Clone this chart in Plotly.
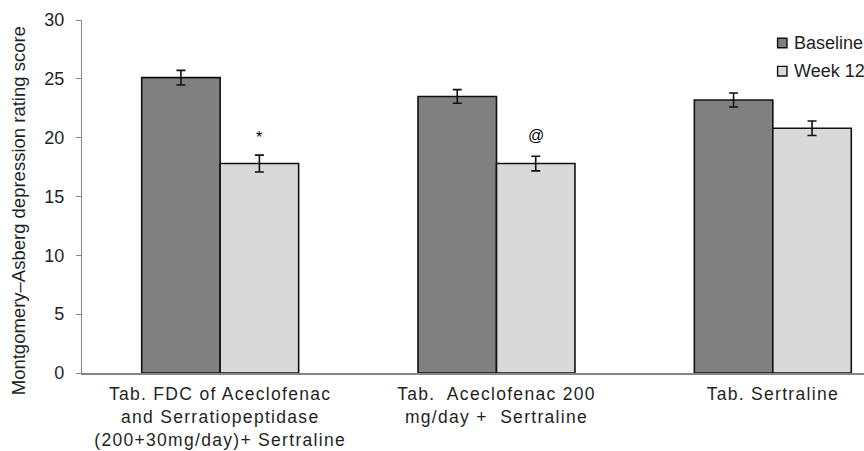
import plotly.graph_objects as go

categories = [
    "Tab. FDC of Aceclofenac<br>and Serratiopeptidase<br>(200+30mg/day)+ Sertraline",
    "Tab.\u00a0 Aceclofenac 200<br>mg/day +\u00a0 Sertraline",
    "Tab. Sertraline",
]
baseline = [25.1, 23.5, 23.2]
baseline_err = [0.62, 0.58, 0.6]
week12 = [17.8, 17.8, 20.8]
week12_err = [0.72, 0.62, 0.62]
sig_labels = ["*", "@", ""]
sig_offset = [1.5, 1.75, 0]
yticks = [0, 5, 10, 15, 20, 25, 30]

FONT = "Liberation Sans, Arial, sans-serif"
TXT = "#1f1f1f"
AX = "#868686"
BAR_W = 0.284
xs = list(range(len(categories)))

fig = go.Figure()
fig.add_trace(go.Bar(
    name="Baseline", x=xs, y=baseline, width=BAR_W, offsetgroup="b",
    marker=dict(color="#808080", line=dict(color="#111111", width=1.6)),
    error_y=dict(type="data", array=baseline_err, color="#111111", thickness=1.6, width=4.5),
))
fig.add_trace(go.Bar(
    name="Week 12", x=xs, y=week12, width=BAR_W, offsetgroup="w",
    marker=dict(color="#d9d9d9", line=dict(color="#111111", width=1.6)),
    error_y=dict(type="data", array=week12_err, color="#111111", thickness=1.6, width=4.5),
))

annotations = []
for i, lab in enumerate(sig_labels):
    if lab:
        annotations.append(dict(
            x=xs[i] + BAR_W / 2, y=week12[i] + week12_err[i] + sig_offset[i],
            xref="x", yref="y", text=lab, showarrow=False,
            font=dict(family=FONT, size=16, color="#000000"),
            xanchor="center", yanchor="middle",
        ))

annotations.append(dict(
    x=-0.081, y=0.46, xref="paper", yref="paper", textangle=-90,
    text="Montgomery\u2013Asberg depression rating score", showarrow=False,
    font=dict(family=FONT, size=18.5, color=TXT), xanchor="center", yanchor="middle",
))

# manual legend at the right edge like the reference
leg_items = [("Baseline", "#808080"), ("Week 12", "#d9d9d9")]
leg_y = [0.935, 0.855]
shapes = []
for (name, col), ly in zip(leg_items, leg_y):
    shapes.append(dict(type="rect", xref="paper", yref="paper",
                       x0=0.8895, x1=0.9015, y0=ly - 0.0135, y1=ly + 0.0135,
                       fillcolor=col, line=dict(color="#111111", width=1.4)))
    annotations.append(dict(x=0.9085, y=ly, xref="paper", yref="paper", text=name,
                            showarrow=False, xanchor="left", yanchor="middle",
                            font=dict(family=FONT, size=18, color=TXT)))

fig.update_layout(
    width=864, height=451,
    margin=dict(l=81.5, r=0, t=20, b=78),
    paper_bgcolor="white", plot_bgcolor="white",
    barmode="group", bargap=0.432, bargroupgap=0,
    showlegend=False,
    annotations=annotations, shapes=shapes,
    font=dict(family=FONT, color=TXT),
)
fig.update_xaxes(
    range=[-0.5, 2.33], tickvals=xs, ticktext=categories,
    showline=True, linecolor=AX, linewidth=2, ticks="", showgrid=False, zeroline=False,
    tickfont=dict(family=FONT, size=17.5, color=TXT), ticklabelstandoff=4,
)
fig.update_yaxes(
    range=[0, 30], tickvals=yticks, showline=True, linecolor=AX, linewidth=1.4,
    ticks="outside", ticklen=5, tickcolor=AX, tickwidth=1.4, showgrid=False, zeroline=False,
    tickfont=dict(family=FONT, size=18, color=TXT), ticklabelstandoff=8,
)

post = (
    "document.body.style.margin='0';document.body.style.overflow='hidden';"
    "document.querySelectorAll('.xtick text').forEach(function(t){t.style.letterSpacing='1.3px';});"
)

fig.write_html("out.html", config={"displayModeBar": False}, post_script=post)
